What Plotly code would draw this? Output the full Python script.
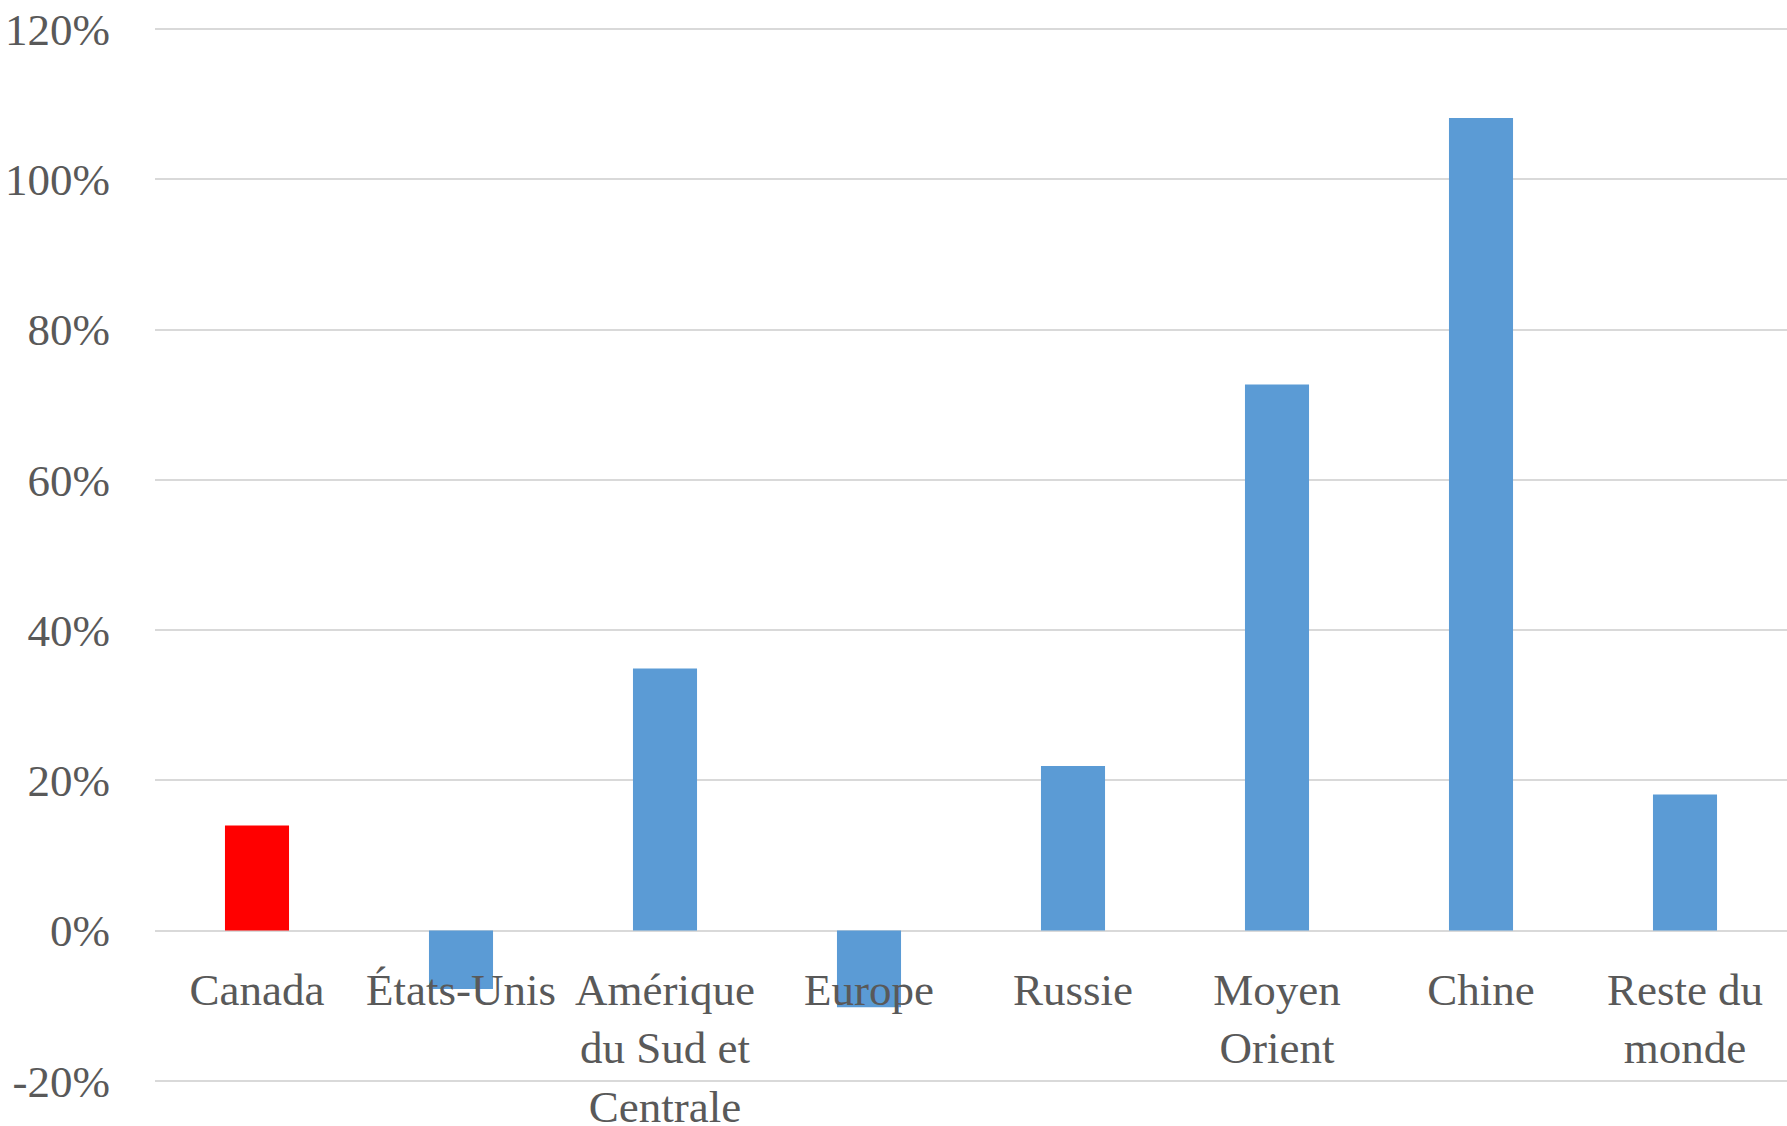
import plotly.graph_objects as go

categories = ["Canada", "États-Unis", "Amérique<br>du Sud et<br>Centrale", "Europe",
              "Russie", "Moyen<br>Orient", "Chine", "Reste du<br>monde"]
values = [14.0, -7.8, 34.9, -10.2, 21.9, 72.7, 108.2, 18.1]
bar_colors = ["#ff0000", "#5b9bd5", "#5b9bd5", "#5b9bd5", "#5b9bd5", "#5b9bd5", "#5b9bd5", "#5b9bd5"]
y_ticks = [-20, 0, 20, 40, 60, 80, 100, 120]
y_ticktext = ["-20%", "0%", "20%", "40%", "60%", "80%", "100%", "120%"]

FONT = "Liberation Serif"
TXT = "#595959"
GRID = "#d9d9d9"

fig = go.Figure(go.Bar(
    x=categories, y=values,
    marker=dict(color=bar_colors, line=dict(width=0)),
    hoverinfo="skip",
))

ymin, ymax = -20.3, 120.3
fig.update_layout(
    width=1787, height=1126,
    margin=dict(l=155, r=0, t=27, b=43),
    paper_bgcolor="white", plot_bgcolor="white",
    bargap=0.686,
    showlegend=False,
    font=dict(family=FONT, size=45, color=TXT),
    xaxis=dict(
        anchor="free", position=(0 - ymin) / (ymax - ymin),
        showgrid=False, showline=False, zeroline=False,
        ticks="", ticklabelstandoff=28, automargin=False,
        tickfont=dict(family=FONT, size=45, color=TXT),
        tickangle=0,
    ),
    yaxis=dict(
        range=[ymin, ymax], automargin=False,
        tickvals=y_ticks, ticktext=y_ticktext,
        showgrid=True, gridcolor=GRID, gridwidth=1.6,
        zeroline=True, zerolinecolor=GRID, zerolinewidth=1.6,
        showline=False, ticks="", ticklabelstandoff=44,
        tickfont=dict(family=FONT, size=45, color=TXT),
    ),
)

fig.write_html("out.html", config={"displayModeBar": False},
               post_script="document.body.style.margin='0';")
